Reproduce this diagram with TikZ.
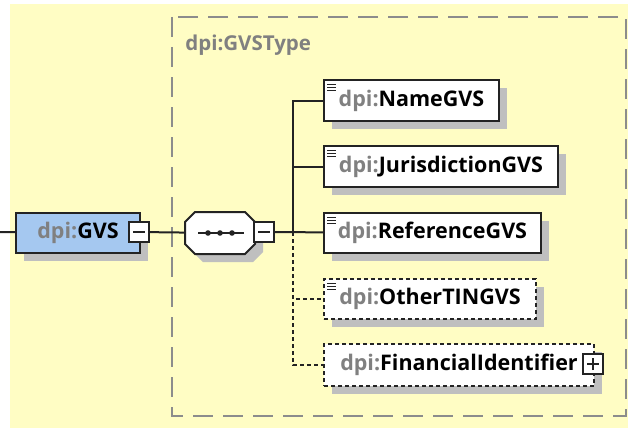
\documentclass[tikz,border=0pt]{standalone}
\usepackage{fontspec}
\setmainfont{Open Sans}
\usetikzlibrary{shadows}

\definecolor{paper}{RGB}{255,253,196}
\definecolor{gvsblue}{RGB}{165,200,240}
\definecolor{prefix}{RGB}{128,128,128}
\definecolor{frame}{RGB}{140,140,140}
\definecolor{ink}{RGB}{35,35,35}
\newcommand{\dpi}[1]{{\color{prefix}dpi:}#1}

\begin{document}
\begin{tikzpicture}[x=1pt, y=-1pt, line width=2pt,
	box shadow/.style={drop shadow={shadow xshift=8pt, shadow yshift=-8pt, opacity=1, fill=black!25}},
	elem node/.style={rectangle, draw=ink, fill=white, anchor=north west, inner sep=0pt, box shadow,
		font=\bfseries\fontsize{21.5}{25}\selectfont},
	opt node/.style={elem node, dash pattern=on 4pt off 3pt},
	leaf node/.style={path picture={\foreach \k in {4pt,7pt,10pt}
		\draw[ink, solid, line width=1pt] ([shift={(3pt,-\k)}]path picture bounding box.north west) -- ++(9pt,0);}},
	toggle node/.style={rectangle, draw=ink, fill=white, minimum size=20pt, inner sep=0pt},
	minus node/.style={toggle node, path picture={
		\draw[ink, line width=1.3pt] ([xshift=4pt]path picture bounding box.west) -- ([xshift=-4pt]path picture bounding box.east);}},
	plus node/.style={toggle node, path picture={
		\draw[ink, line width=1.3pt] ([xshift=4pt]path picture bounding box.west) -- ([xshift=-4pt]path picture bounding box.east);
		\draw[ink, line width=1.3pt] ([yshift=4pt]path picture bounding box.south) -- ([yshift=-4pt]path picture bounding box.north);}},
	seq node/.style={rectangle, anchor=north west, minimum width=68pt, minimum height=40pt, inner sep=0pt},
	link/.style={draw=ink, line width=2pt},
	opt link/.style={link, dash pattern=on 4pt off 3pt}]
	
	\useasboundingbox (0,0) rectangle (628,428);
	\fill[paper] (10,4) rectangle (628,428);
	\draw[frame, line width=2pt, dash pattern=on 20pt off 10pt] (172,17) rectangle (626,416);
	\node[anchor=west, text=prefix, font=\bfseries\fontsize{20.5}{24}\selectfont] (type) at (181,45) {dpi:GVSType};
	
	\coordinate (in) at (0,232);
	\coordinate (bus) at (293,232);
	\node[elem node, fill=gvsblue, minimum width=124pt, minimum height=40pt] (gvs) at (15,212) {\dpi{GVS}\hspace{14pt}};
	\node[minus node] (gvsminus) at (139,232) {};
	
	\node[seq node] (seq) at (185,212) {};
	\draw[ink, fill=white, box shadow] ([xshift=10pt]seq.north west) -- ([xshift=-10pt]seq.north east)
		-- ([yshift=-10pt]seq.north east) -- ([yshift=10pt]seq.south east) -- ([xshift=-10pt]seq.south east)
		-- ([xshift=10pt]seq.south west) -- ([yshift=10pt]seq.south west) -- ([yshift=-10pt]seq.north west) -- cycle;
	\draw[ink, line width=1.8pt] ([xshift=-22pt]seq.center) -- ([xshift=24pt]seq.center);
	\foreach \d in {-12pt,0pt,12pt}
		\fill[ink] ([xshift=\d]seq.center) circle (2.8pt);
	\node[minus node] (seqminus) at (264,232) {};
	
	\node[elem node, leaf node, minimum width=175pt, minimum height=41pt] (name) at (323,79) {\dpi{NameGVS}};
	\node[elem node, leaf node, minimum width=234pt, minimum height=41pt] (juris) at (323,145) {\dpi{JurisdictionGVS}};
	\node[elem node, leaf node, minimum width=217pt, minimum height=40pt] (ref) at (323,212) {\dpi{ReferenceGVS}};
	\node[opt node, leaf node, minimum width=212pt, minimum height=40pt] (other) at (323,278) {\dpi{OtherTINGVS}};
	\node[opt node, minimum width=270pt, minimum height=42pt] (fin) at (323,343) {\dpi{FinancialIdentifier}\hspace{14pt}};
	\node[plus node] (finplus) at (593,364) {};
	
	\draw[link] (in) -- (gvs);
	\draw[link] (gvsminus) -- (seq);
	\draw[link] (seqminus) -- (ref);
	\draw[link] (bus) |- (name);
	\draw[link] (bus) |- (juris);
	\draw[opt link] (bus) |- (other);
	\draw[opt link] (bus) |- (fin);
	
\end{tikzpicture}
\end{document}
